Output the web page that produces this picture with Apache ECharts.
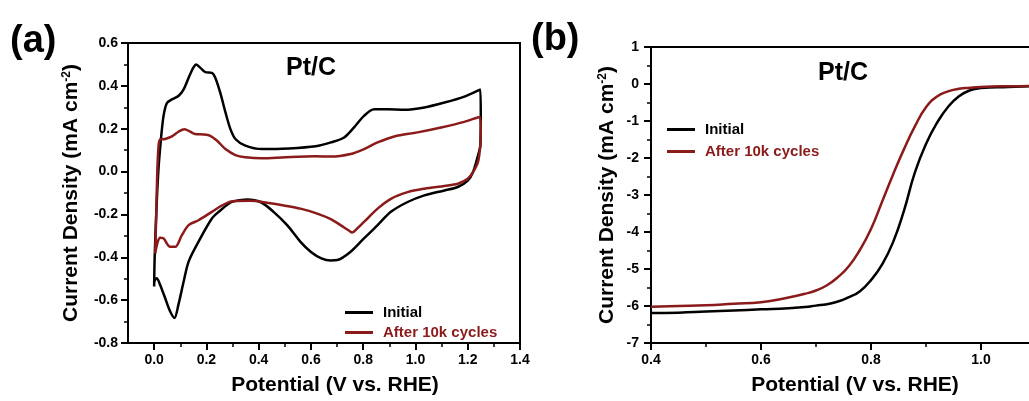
<!DOCTYPE html>
<html>
<head>
<meta charset="utf-8">
<script src="https://cdn.jsdelivr.net/npm/echarts@6/dist/echarts.min.js"></script>
<style>
  html, body { margin: 0; padding: 0; background: #fff; }
  #main { width: 1029px; height: 401px; }
</style>
</head>
<body>
<div id="main"></div>
<script>
var FONT = '"Liberation Sans", Arial, sans-serif';
var RED = '#8b1a1a';

// (a) cyclic voltammetry, [potential V, current mA cm-2], one loop each
var cvInitial = [
  [0.000, -0.536], [0.002, -0.40], [0.008, -0.20], [0.016, 0.00], [0.026, 0.15], [0.036, 0.26],
  [0.049, 0.32], [0.068, 0.337], [0.093, 0.353], [0.113, 0.384], [0.132, 0.438], [0.150, 0.485],
  [0.161, 0.500], [0.177, 0.484], [0.196, 0.464], [0.221, 0.461], [0.234, 0.438], [0.253, 0.368],
  [0.273, 0.276], [0.292, 0.198], [0.311, 0.152], [0.349, 0.121], [0.413, 0.105], [0.516, 0.108],
  [0.618, 0.118], [0.676, 0.136], [0.727, 0.159], [0.765, 0.206], [0.803, 0.260], [0.842, 0.291],
  [0.893, 0.291], [0.957, 0.288], [1.034, 0.299], [1.111, 0.322], [1.187, 0.350], [1.248, 0.383],
  [1.250, 0.25], [1.248, 0.12], [1.239, 0.074], [1.220, -0.003], [1.200, -0.042], [1.162, -0.072],
  [1.111, -0.088], [1.034, -0.111], [0.970, -0.142], [0.906, -0.188], [0.855, -0.250], [0.803, -0.312],
  [0.752, -0.374], [0.701, -0.413], [0.675, -0.415], [0.640, -0.405], [0.600, -0.375], [0.560, -0.328],
  [0.509, -0.250], [0.458, -0.189], [0.407, -0.142], [0.356, -0.130], [0.305, -0.139], [0.285, -0.150],
  [0.250, -0.185], [0.221, -0.219], [0.170, -0.327], [0.132, -0.420], [0.113, -0.513], [0.093, -0.621],
  [0.078, -0.683], [0.061, -0.652], [0.042, -0.590], [0.023, -0.529], [0.010, -0.498], [0.001, -0.513],
  [0.000, -0.536]
];
var cvCycled = [
  [0.004, -0.382], [0.008, -0.20], [0.012, 0.00], [0.017, 0.12], [0.023, 0.150], [0.042, 0.152],
  [0.068, 0.164], [0.093, 0.186], [0.116, 0.198], [0.138, 0.186], [0.157, 0.175], [0.189, 0.173],
  [0.215, 0.167], [0.241, 0.144], [0.273, 0.105], [0.311, 0.077], [0.349, 0.067], [0.413, 0.062],
  [0.503, 0.067], [0.618, 0.071], [0.676, 0.070], [0.752, 0.082], [0.803, 0.105], [0.855, 0.136],
  [0.919, 0.164], [1.008, 0.183], [1.098, 0.206], [1.187, 0.232], [1.246, 0.255], [1.250, 0.20],
  [1.248, 0.12], [1.239, 0.044], [1.220, -0.003], [1.200, -0.034], [1.162, -0.057], [1.111, -0.067],
  [1.034, -0.080], [0.970, -0.096], [0.906, -0.127], [0.855, -0.173], [0.803, -0.235], [0.775, -0.268],
  [0.758, -0.284], [0.745, -0.275], [0.727, -0.261], [0.676, -0.222], [0.624, -0.196], [0.560, -0.173],
  [0.496, -0.158], [0.432, -0.145], [0.368, -0.136], [0.300, -0.138], [0.260, -0.158], [0.221, -0.188],
  [0.170, -0.227], [0.132, -0.250], [0.106, -0.297], [0.081, -0.351], [0.061, -0.351], [0.036, -0.312],
  [0.023, -0.309], [0.014, -0.327], [0.004, -0.382]
];

// (b) polarization curves
var lsvPotential = [0.40, 0.45, 0.50, 0.55, 0.60, 0.65, 0.68, 0.70, 0.72, 0.74, 0.76, 0.78, 0.80, 0.82,
  0.84, 0.86, 0.88, 0.90, 0.92, 0.94, 0.96, 0.98, 1.00, 1.05, 1.10];
var lsvInitial = [-6.19, -6.18, -6.15, -6.12, -6.09, -6.06, -6.03, -5.99, -5.95, -5.88, -5.76, -5.60, -5.30, -4.88,
  -4.28, -3.42, -2.38, -1.62, -1.05, -0.62, -0.33, -0.17, -0.11, -0.08, -0.05];
var lsvCycled = [-6.02, -6.00, -5.98, -5.94, -5.90, -5.77, -5.67, -5.58, -5.44, -5.22, -4.92, -4.48, -3.92, -3.19,
  -2.45, -1.76, -1.14, -0.63, -0.34, -0.20, -0.13, -0.10, -0.08, -0.06, -0.05];

var xMajorA = [0, 0.2, 0.4, 0.6, 0.8, 1.0, 1.2, 1.4];
var xMinorA = [0.1, 0.3, 0.5, 0.7, 0.9, 1.1, 1.3];
var xMajorB = [0.4, 0.6, 0.8, 1.0];
var xMinorB = [0.5, 0.7, 0.9];

function pair(xs, ys) {
  return xs.map(function (x, i) { return [x, ys[i]]; });
}

var tickLabel = { color: '#000', fontFamily: FONT, fontWeight: 'bold', fontSize: 14 };
var nameStyle = {
  color: '#000', fontFamily: FONT, fontWeight: 'bold', fontSize: 21,
  rich: { sup: { fontFamily: FONT, fontWeight: 'bold', fontSize: 12, verticalAlign: 'top', color: '#000' } }
};
var line2 = { show: true, onZero: false, lineStyle: { color: '#000', width: 2 } };
var majorTick = { show: true, inside: false, length: 7, lineStyle: { color: '#000', width: 2 } };
var minorTick = { show: true, splitNumber: 2, length: 4, lineStyle: { color: '#000', width: 1.5 } };
var fmt1 = function (v) { return v.toFixed(1); };

var legendText = { fontFamily: FONT, fontWeight: 'bold', fontSize: 15, padding: [0, 0, 0, 5] };
var legendData = [
  { name: 'Initial', textStyle: { color: '#000' } },
  { name: 'After 10k cycles', textStyle: { color: RED } }
];

var myChart = echarts.init(document.getElementById('main'), null, { renderer: 'canvas' });

var option = {
  animation: false,
  backgroundColor: '#fff',
  title: [
    { text: '(a)', left: 10, top: 23, padding: 0, textStyle: { fontFamily: FONT, fontWeight: 'bold', fontSize: 38, color: '#000' } },
    { text: '(b)', left: 531, top: 21, padding: 0, textStyle: { fontFamily: FONT, fontWeight: 'bold', fontSize: 38, color: '#000' } },
    { text: 'Pt/C', left: 286, top: 56, padding: 0, textStyle: { fontFamily: FONT, fontWeight: 'bold', fontSize: 25, color: '#000' } },
    { text: 'Pt/C', left: 818, top: 61, padding: 0, textStyle: { fontFamily: FONT, fontWeight: 'bold', fontSize: 25, color: '#000' } }
  ],
  legend: [
    {
      left: 345, top: 305, orient: 'vertical', icon: 'rect', itemWidth: 28, itemHeight: 3,
      itemGap: 5, padding: 0, textStyle: legendText, data: legendData
    },
    {
      left: 667, top: 122, orient: 'vertical', icon: 'rect', itemWidth: 28, itemHeight: 3,
      itemGap: 7, padding: 0, textStyle: legendText, data: legendData
    }
  ],
  grid: [
    { left: 128, top: 43, width: 392, height: 302, show: true, borderColor: '#000', borderWidth: 2, backgroundColor: 'transparent' },
    { left: 651, top: 47, right: 0, height: 298, show: false }
  ],
  xAxis: [
    {
      type: 'value', gridIndex: 0, min: -0.1, max: 1.4, position: 'bottom',
      axisLine: line2,
      axisTick: { show: true, length: 7, customValues: xMajorA, lineStyle: { color: '#000', width: 2 } },
      axisLabel: { customValues: xMajorA, margin: 10, formatter: fmt1, textStyle: tickLabel },
      splitLine: { show: false },
      name: 'Potential (V vs. RHE)', nameLocation: 'middle', nameGap: 32,
      nameTextStyle: Object.assign({}, nameStyle, { padding: [0, 0, 0, 22] })
    },
    {
      type: 'value', gridIndex: 0, min: -0.1, max: 1.4, position: 'bottom',
      axisLine: { show: false, onZero: false },
      axisTick: { show: true, length: 4, customValues: xMinorA, lineStyle: { color: '#000', width: 1.5 } },
      axisLabel: { show: false },
      splitLine: { show: false }
    },
    {
      type: 'value', gridIndex: 1, min: 0.4, max: 1.0873, position: 'bottom',
      axisLine: line2,
      axisTick: { show: true, length: 7, customValues: xMajorB, lineStyle: { color: '#000', width: 2 } },
      axisLabel: { customValues: xMajorB, margin: 10, formatter: fmt1, textStyle: tickLabel },
      splitLine: { show: false },
      name: 'Potential (V vs. RHE)', nameLocation: 'middle', nameGap: 32,
      nameTextStyle: Object.assign({}, nameStyle, { padding: [0, 0, 0, 30] })
    },
    {
      type: 'value', gridIndex: 1, min: 0.4, max: 1.0873, position: 'bottom',
      axisLine: { show: false, onZero: false },
      axisTick: { show: true, length: 4, customValues: xMinorB, lineStyle: { color: '#000', width: 1.5 } },
      axisLabel: { show: false },
      splitLine: { show: false }
    },
    {
      type: 'value', gridIndex: 1, min: 0.4, max: 1.0873, position: 'top',
      axisLine: line2, axisTick: { show: false }, axisLabel: { show: false },
      splitLine: { show: false }
    }
  ],
  yAxis: [
    {
      type: 'value', gridIndex: 0, min: -0.8, max: 0.6, interval: 0.2,
      axisLine: line2, axisTick: majorTick, minorTick: minorTick,
      axisLabel: { margin: 10, formatter: fmt1, textStyle: tickLabel },
      splitLine: { show: false }, minorSplitLine: { show: false },
      name: 'Current Density (mA cm{sup|-2})', nameLocation: 'middle', nameGap: 46,
      nameTextStyle: nameStyle
    },
    {
      type: 'value', gridIndex: 1, min: -7, max: 1, interval: 1,
      axisLine: line2, axisTick: majorTick, minorTick: minorTick,
      axisLabel: { margin: 12, textStyle: tickLabel },
      splitLine: { show: false }, minorSplitLine: { show: false },
      name: 'Current Density (mA cm{sup|-2})', nameLocation: 'middle', nameGap: 33,
      nameTextStyle: nameStyle
    }
  ],
  series: [
    {
      name: 'Initial', type: 'line', xAxisIndex: 0, yAxisIndex: 0, data: cvInitial,
      showSymbol: false, smooth: 0.3, color: '#000', lineStyle: { color: '#000', width: 2.5 }, z: 3
    },
    {
      name: 'After 10k cycles', type: 'line', xAxisIndex: 0, yAxisIndex: 0, data: cvCycled,
      showSymbol: false, smooth: 0.3, color: RED, lineStyle: { color: RED, width: 2.5 }, z: 4
    },
    {
      name: 'Initial', type: 'line', xAxisIndex: 2, yAxisIndex: 1, data: pair(lsvPotential, lsvInitial),
      showSymbol: false, smooth: true, color: '#000', lineStyle: { color: '#000', width: 2.5 }
    },
    {
      name: 'After 10k cycles', type: 'line', xAxisIndex: 2, yAxisIndex: 1, data: pair(lsvPotential, lsvCycled),
      showSymbol: false, smooth: true, color: RED, lineStyle: { color: RED, width: 2.5 }
    }
  ]
};

myChart.setOption(option);
</script>
</body>
</html>
